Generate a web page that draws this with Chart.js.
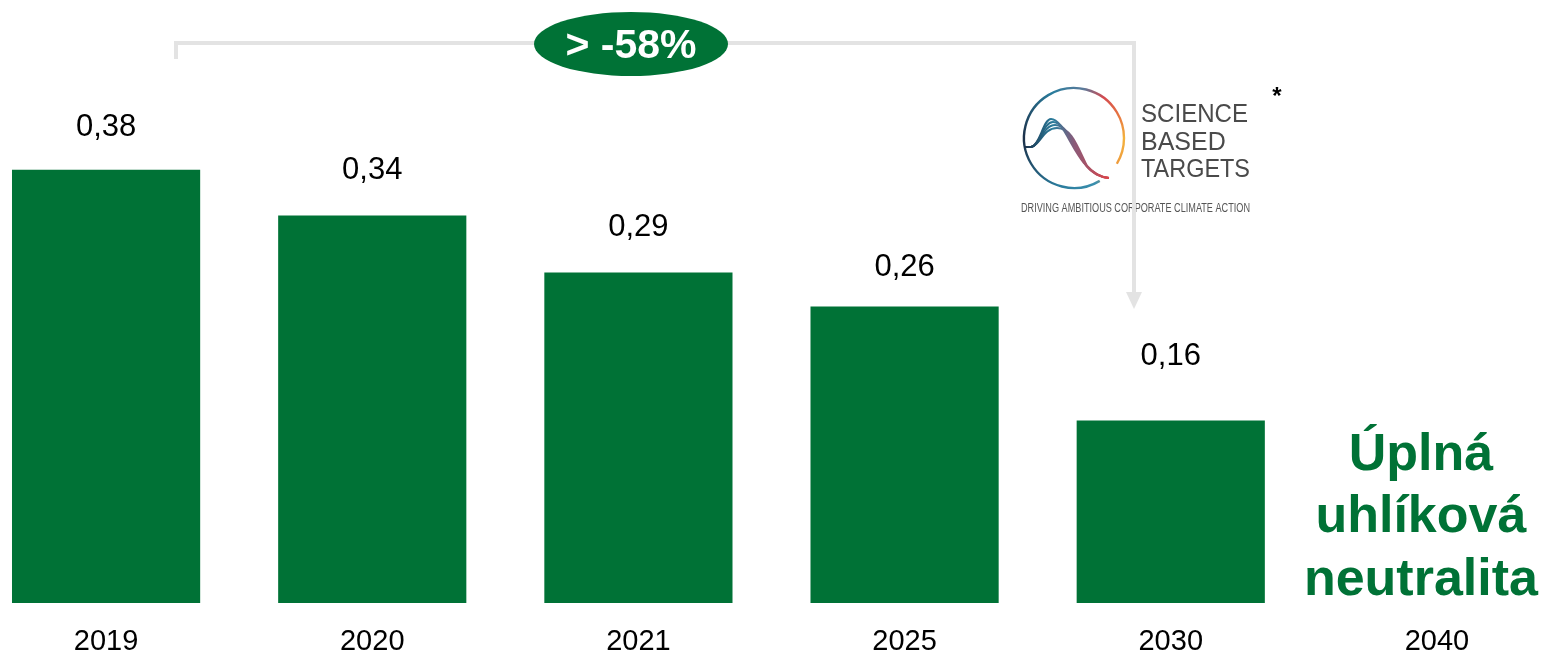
<!DOCTYPE html>
<html lang="cs">
<head>
<meta charset="utf-8">
<script src="https://cdn.jsdelivr.net/npm/chart.js@4.4.1/dist/chart.umd.min.js"></script>
<style>
html, body { margin: 0; padding: 0; background: #fff; overflow: hidden; }
#obal { position: absolute; left: -27px; top: 0; width: 1597px; height: 656px; }
</style>
</head>
<body>
<div id="obal"><canvas id="emiseGraf"></canvas></div>
<script>
// Roky a hodnoty
var roky = ['2019', '2020', '2021', '2025', '2030', '2040'];
var hodnoty = [0.38, 0.34, 0.29, 0.26, 0.16, null];
var cilText = ['Úplná', 'uhlíková', 'neutralita'];
var snizeni = '> -58%';

var ZELENA = '#007236';
var PISMO = '"Liberation Sans", Arial, sans-serif';
var POSUN = 27; // canvas je posunutý doleva o 27 px

// mezery mezi popiskem a horní hranou sloupce
var mezeryPopisku = [42, 45, 45, 39, 64];

function X(px) { return px + POSUN; }

function nakresliLogo(ctx) {
    var cx = X(1074), cy = 138, r = 50;
    // kruh s barevným přechodem
    var g = ctx.createConicGradient(0, cx, cy);
    g.addColorStop(0, '#f3b23e');
    g.addColorStop(0.09, '#ee9a3c');
    g.addColorStop(0.18, '#3a8fae');
    g.addColorStop(0.3, '#2a7b9c');
    g.addColorStop(0.5, '#1c2f48');
    g.addColorStop(0.68, '#2a7d9d');
    g.addColorStop(0.78, '#5b7a9a');
    g.addColorStop(0.85, '#d34a50');
    g.addColorStop(0.93, '#e8773f');
    g.addColorStop(1, '#f3b23e');
    ctx.save();
    ctx.strokeStyle = g;
    ctx.lineWidth = 2.4;
    ctx.beginPath();
    ctx.arc(cx, cy, r, 59 * Math.PI / 180, (360 + 31) * Math.PI / 180);
    ctx.stroke();

    // vlnky
    var lg = ctx.createLinearGradient(X(1024), 0, X(1108), 0);
    lg.addColorStop(0, '#1c2f48');
    lg.addColorStop(0.35, '#2a7d9d');
    lg.addColorStop(0.6, '#8a5a78');
    lg.addColorStop(1, '#d9454b');
    ctx.strokeStyle = lg;
    ctx.lineWidth = 2;
    for (var k = 0; k < 4; k++) {
        ctx.beginPath();
        ctx.moveTo(X(1024), 147);
        ctx.lineTo(X(1031), 147);
        ctx.bezierCurveTo(X(1040), 146, X(1043), 119 + k * 3, X(1051 + k * 2), 119 + k * 3);
        ctx.bezierCurveTo(X(1062 + k * 3), 119 + k * 3, X(1070 + k * 2), 146 - k, X(1084 + k), 163 + k);
        ctx.quadraticCurveTo(X(1094 + k), 177, X(1109), 178);
        ctx.stroke();
    }
    ctx.restore();

    // nápis
    ctx.save();
    ctx.fillStyle = '#4a4a4a';
    ctx.textAlign = 'left';
    ctx.textBaseline = 'alphabetic';
    ctx.font = '300 25px ' + PISMO;
    ctx.fillText('SCIENCE', X(1141), 122, 107);
    ctx.fillText('BASED', X(1141), 150, 86);
    ctx.fillText('TARGETS', X(1141), 177, 109);
    ctx.font = '12px ' + PISMO;
    ctx.fillStyle = '#555';
    ctx.fillText('DRIVING AMBITIOUS CORPORATE CLIMATE ACTION', X(1021), 212, 229);
    ctx.fillStyle = '#000';
    ctx.font = 'bold 24px ' + PISMO;
    ctx.textAlign = 'center';
    ctx.fillText('*', X(1277), 104);
    ctx.restore();
}

var popiskyPlugin = {
    id: 'popisky',
    afterDatasetsDraw: function(chart) {
        var ctx = chart.ctx;
        var meta = chart.getDatasetMeta(0);
        ctx.save();
        ctx.fillStyle = '#000';
        ctx.font = '31px ' + PISMO;
        ctx.textAlign = 'center';
        ctx.textBaseline = 'middle';
        meta.data.forEach(function(bar, i) {
            if (hodnoty[i] === null) return;
            var text = hodnoty[i].toFixed(2).replace('.', ',');
            ctx.fillText(text, bar.x, bar.y - mezeryPopisku[i]);
        });
        ctx.restore();
    },
    afterDraw: function(chart) {
        var ctx = chart.ctx;
        var dole = chart.chartArea.bottom;
        var xCil = chart.scales.x.getPixelForValue(5);

        nakresliLogo(ctx);

        // šedá závorka se šipkou
        ctx.save();
        ctx.strokeStyle = '#e3e3e3';
        ctx.lineWidth = 4;
        ctx.beginPath();
        ctx.moveTo(X(176), 59);
        ctx.lineTo(X(176), 43);
        ctx.lineTo(X(1134), 43);
        ctx.lineTo(X(1134), 296);
        ctx.stroke();
        ctx.fillStyle = '#e3e3e3';
        ctx.beginPath();
        ctx.moveTo(X(1126), 292);
        ctx.lineTo(X(1142), 292);
        ctx.lineTo(X(1134), 309);
        ctx.closePath();
        ctx.fill();

        // zelená elipsa s procentem
        ctx.fillStyle = ZELENA;
        ctx.beginPath();
        ctx.ellipse(X(631), 44, 97, 32, 0, 0, Math.PI * 2);
        ctx.fill();
        ctx.fillStyle = '#fff';
        ctx.font = 'bold 41px ' + PISMO;
        ctx.textAlign = 'center';
        ctx.textBaseline = 'middle';
        ctx.fillText(snizeni, X(631), 47);

        // cíl 2040
        ctx.fillStyle = ZELENA;
        ctx.font = 'bold 52px ' + PISMO;
        ctx.textBaseline = 'alphabetic';
        var radky = [-133, -71, -8];
        cilText.forEach(function(t, i) {
            ctx.fillText(t, xCil - 16, dole + radky[i]);
        });
        ctx.restore();
    }
};

var ctx = document.getElementById('emiseGraf').getContext('2d');
var emiseGraf = new Chart(ctx, {
    type: 'bar',
    data: {
        labels: roky,
        datasets: [{
            label: 'Emise',
            data: hodnoty,
            backgroundColor: ZELENA,
            borderWidth: 0,
            categoryPercentage: 1,
            barPercentage: 0.707
        }]
    },
    options: {
        responsive: true,
        maintainAspectRatio: false,
        animation: false,
        layout: { padding: { top: 33, bottom: 0, left: 0, right: 0 } },
        plugins: {
            legend: { display: false },
            tooltip: { enabled: false }
        },
        scales: {
            x: {
                grid: { display: false },
                border: { display: false },
                ticks: {
                    color: '#000',
                    font: { family: PISMO, size: 29 },
                    padding: 14,
                    maxRotation: 0
                },
                afterFit: function(scale) { scale.height = 53; }
            },
            y: {
                display: false,
                min: 0,
                max: 0.5
            }
        }
    },
    plugins: [popiskyPlugin]
});
</script>
</body>
</html>
